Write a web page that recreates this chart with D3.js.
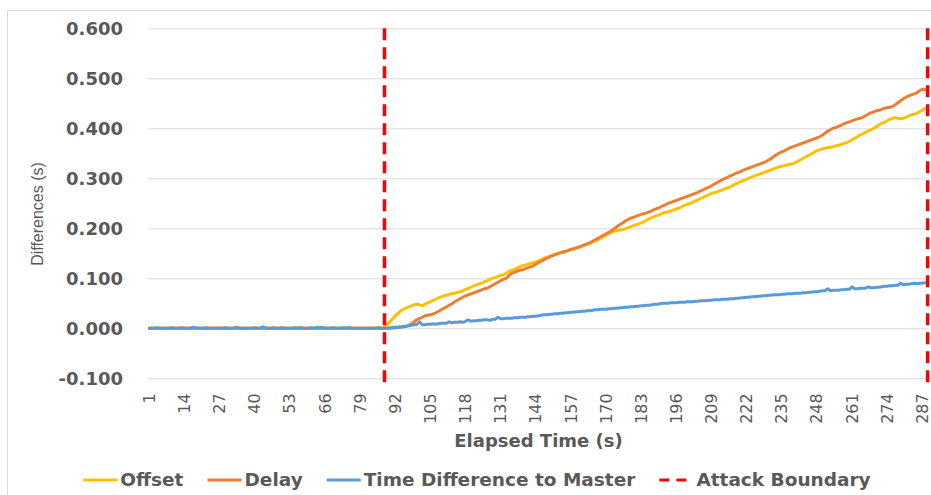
<!DOCTYPE html>
<html>
<head>
<meta charset="utf-8">
<script src="https://cdn.jsdelivr.net/npm/d3@7"></script>
<style>
    body { margin: 0; background: #fff; }
    svg { display: block; }
</style>
</head>
<body>
<div id="chart"></div>
<script>
// Values (one value per elapsed second, 1..288)
var offset = [
    0,0,0,0,0,0,0,0,0,0, 0,0,0,0,0,0,0,0,0,0, 0,0,0,0,0,0,0,0,0,0,
    0,0,0,0,0,0,0,0,0,0, 0,0,0,0,0,0,0,0,0,0, 0,0,0,0,0,0,0,0,0,0,
    0,0,0,0,0,0,0,0,0,0, 0,0,0,0,0,0,0,0,0,0, 0,0,0,0,0,0,0,
    0.002,0.008,0.013,0.019,0.025,0.030,0.035,0.038,0.041,0.043,0.045,0.047,0.048,
    0.047,0.045,0.048,0.051,0.053,0.056,0.058,0.061,0.063,0.065,
    0.066,0.068,0.069,0.070,0.072,0.073,0.075,0.078,0.080,0.082,
    0.085,0.087,0.089,0.091,0.093,0.095,0.098,0.100,0.102,0.104,
    0.106,0.107,0.110,0.113,0.116,0.118,0.120,0.123,0.125,0.126,
    0.128,0.130,0.131,0.133,0.135,0.137,0.140,0.142,0.144,0.146,
    0.148,0.149,0.151,0.153,0.154,0.156,0.157,0.159,0.161,0.162,
    0.164,0.166,0.168,0.170,0.173,0.175,0.177,0.180,0.183,0.186,
    0.189,0.192,0.194,0.195,0.196,0.197,0.199,0.201,0.203,0.205,
    0.207,0.209,0.211,0.213,0.216,0.219,0.222,0.224,0.226,0.228,
    0.230,0.232,0.233,0.235,0.237,0.239,0.240,0.243,0.246,0.248,
    0.250,0.252,0.255,0.257,0.260,0.262,0.265,0.267,0.270,0.271,
    0.273,0.275,0.277,0.279,0.281,0.283,0.286,0.289,0.291,0.294,
    0.296,0.298,0.301,0.303,0.305,0.307,0.309,0.311,0.313,0.315,
    0.317,0.319,0.321,0.323,0.324,0.325,0.327,0.328,0.329,0.331,
    0.334,0.337,0.340,0.343,0.346,0.349,0.352,0.355,0.357,0.359,
    0.360,0.361,0.362,0.363,0.365,0.366,0.368,0.370,0.371,0.374,
    0.377,0.380,0.383,0.387,0.389,0.392,0.395,0.397,0.400,0.403,
    0.407,0.410,0.412,0.415,0.418,0.420,0.421,0.420,0.419,0.420,
    0.422,0.425,0.427,0.428,0.430,0.433,0.436,0.440
];

var delay = [
    0,0,0,0,0,0,0,0,0,0, 0,0,0,0,0,0,0,0,0,0, 0,0,0,0,0,0,0,0,0,0,
    0,0,0,0,0,0,0,0,0,0, 0,0,0,0,0,0,0,0,0,0, 0,0,0,0,0,0,0,0,0,0,
    0,0,0,0,0,0,0,0,0,0, 0,0,0,0,0,0,0,0,0,0, 0,0,0,0,0,0,0,
    0.000,0.000,0.001,0.001,0.002,0.002,0.003,0.003,0.004,0.006,0.009,0.013,0.017,
    0.020,0.022,0.025,0.026,0.027,0.029,0.031,0.034,0.037,0.040,
    0.043,0.046,0.049,0.053,0.056,0.059,0.062,0.065,0.067,0.069,
    0.071,0.073,0.075,0.077,0.079,0.080,0.083,0.086,0.089,0.092,
    0.095,0.098,0.100,0.105,0.110,0.112,0.114,0.116,0.117,0.119,
    0.121,0.123,0.125,0.128,0.131,0.134,0.137,0.140,0.142,0.145,
    0.147,0.149,0.151,0.152,0.154,0.156,0.158,0.159,0.161,0.163,
    0.165,0.167,0.169,0.171,0.174,0.177,0.180,0.183,0.186,0.189,
    0.192,0.195,0.199,0.203,0.207,0.210,0.214,0.217,0.220,0.222,
    0.224,0.226,0.228,0.229,0.231,0.233,0.235,0.238,0.240,0.242,
    0.245,0.247,0.250,0.252,0.254,0.256,0.258,0.260,0.262,0.264,
    0.266,0.268,0.270,0.272,0.275,0.277,0.280,0.282,0.285,0.288,
    0.291,0.294,0.297,0.300,0.302,0.305,0.307,0.310,0.312,0.314,
    0.317,0.319,0.321,0.323,0.325,0.327,0.329,0.331,0.333,0.336,
    0.339,0.343,0.347,0.350,0.353,0.355,0.358,0.361,0.363,0.365,
    0.367,0.369,0.371,0.373,0.375,0.377,0.379,0.381,0.383,0.386,
    0.390,0.394,0.397,0.400,0.402,0.404,0.406,0.409,0.411,0.413,
    0.415,0.417,0.419,0.420,0.422,0.425,0.428,0.431,0.433,0.435,
    0.436,0.438,0.440,0.441,0.442,0.444,0.447,0.451,0.455,0.459,
    0.462,0.465,0.467,0.469,0.471,0.475,0.478,0.477
];

var masterDiff = [
    0,0,0,0.001,0,0,0,0,0.001,0, 0,0,0.001,0,0,0,0.002,0.001,0,0,
    0,0.001,0,0,0,0,0,0,0.001,0, 0,0,0.002,0.001,0,0,0,0,0,0.001,
    0,0,0.003,0.001,0,0,0.001,0,0,0.001, 0,0,0,0,0.001,0,0.002,0,0,0,
    0.001,0,0.002,0.001,0.002,0,0,0,0.001,0, 0,0,0.001,0,0.002,0,0,0,0,0,
    0,0,0,0,0,0.001,0,
    0.000,0.000,0.000,0.001,0.001,0.002,0.002,0.003,0.004,0.005,0.006,0.007,0.008,
    0.013,0.007,0.007,0.008,0.008,0.009,0.008,0.009,0.010,0.010,
    0.010,0.013,0.011,0.012,0.012,0.013,0.012,0.014,0.017,0.014,
    0.015,0.015,0.016,0.016,0.017,0.017,0.016,0.018,0.018,0.022,
    0.019,0.019,0.020,0.020,0.020,0.021,0.021,0.022,0.022,0.022,
    0.023,0.023,0.024,0.024,0.025,0.026,0.027,0.027,0.028,0.028,
    0.029,0.029,0.030,0.030,0.031,0.031,0.032,0.032,0.033,0.033,
    0.034,0.034,0.035,0.035,0.036,0.037,0.037,0.038,0.038,0.038,
    0.039,0.039,0.040,0.040,0.041,0.041,0.042,0.042,0.043,0.043,
    0.044,0.044,0.045,0.045,0.046,0.046,0.047,0.048,0.048,0.049,
    0.050,0.050,0.050,0.051,0.051,0.051,0.052,0.052,0.052,0.053,
    0.053,0.053,0.054,0.054,0.055,0.055,0.055,0.056,0.056,0.057,
    0.057,0.057,0.058,0.058,0.058,0.059,0.059,0.060,0.060,0.061,
    0.061,0.062,0.062,0.063,0.063,0.064,0.064,0.065,0.065,0.066,
    0.066,0.067,0.067,0.067,0.068,0.068,0.069,0.069,0.069,0.070,
    0.070,0.070,0.071,0.071,0.072,0.072,0.073,0.073,0.074,0.075,
    0.075,0.079,0.075,0.076,0.076,0.076,0.077,0.077,0.078,0.078,
    0.083,0.079,0.079,0.080,0.080,0.080,0.083,0.081,0.081,0.082,
    0.082,0.083,0.084,0.084,0.085,0.085,0.086,0.086,0.090,0.087,
    0.088,0.088,0.089,0.090,0.089,0.090,0.090,0.091
];

var attackBoundaries = [88, 289];
var xTickLabels = [1, 14, 27, 40, 53, 66, 79, 92, 105, 118, 131, 144, 157, 170, 183, 196, 209, 222, 235, 248, 261, 274, 287];
var yTicks = [-0.1, 0, 0.1, 0.2, 0.3, 0.4, 0.5, 0.6];
var seriesNames = ["Offset", "Delay", "Time Difference to Master", "Attack Boundary"];
var seriesColors = ["#FFC000", "#ED7D31", "#5B9BD5", "#FF0000"];

var elapsed = d3.range(1, 290);

var W = 931, H = 495,
    plot = { left: 148, right: 929, top: 28.3, bottom: 378.3 },
    textColor = "#595959",
    gridColor = "#D9D9D9";

var svg = d3.select("#chart")
    .append("svg")
    .attr("width", W)
    .attr("height", H);

// chart border
svg.append("rect")
    .attr("x", 7.5).attr("y", 10.5)
    .attr("width", 940).attr("height", 500)
    .attr("fill", "#fff")
    .attr("stroke", "#D9D9D9");

var x = d3.scaleBand()
    .domain(elapsed)
    .range([plot.left, plot.right])
    .padding(0);

var y = d3.scaleLinear()
    .domain([-0.1, 0.6])
    .range([plot.bottom, plot.top]);

function cx(d) { return x(d) + x.bandwidth() / 2; }

// y axis with horizontal grid lines
var yAxis = svg.append("g")
    .attr("transform", "translate(" + plot.left + ",0)")
    .call(d3.axisLeft(y)
        .tickValues(yTicks)
        .tickSize(-(plot.right - plot.left))
        .tickPadding(25)
        .tickFormat(function (d) { return d3.format(".3f")(d).replace("\u2212", "-"); }));

yAxis.select(".domain").remove();
yAxis.selectAll("line").attr("stroke", gridColor);
yAxis.selectAll("text")
    .attr("fill", textColor)
    .style("font-family", "'DejaVu Sans', sans-serif")
    .style("font-weight", "bold")
    .style("font-size", "18px");

// x axis, rotated category labels
var xAxis = svg.append("g")
    .attr("transform", "translate(0," + plot.bottom + ")")
    .call(d3.axisBottom(x)
        .tickValues(xTickLabels)
        .tickSize(0)
        .tickFormat(function (d) { return d; }));

xAxis.select(".domain").remove();
xAxis.selectAll("text")
    .attr("transform", "rotate(-90)")
    .attr("x", -15)
    .attr("y", 0)
    .attr("dy", "0.35em")
    .attr("text-anchor", "end")
    .attr("fill", textColor)
    .style("font-family", "'DejaVu Sans', sans-serif")
    .style("font-size", "16px");

// axis titles
svg.append("text")
    .attr("x", (plot.left + plot.right) / 2)
    .attr("y", 447)
    .attr("text-anchor", "middle")
    .attr("fill", textColor)
    .style("font-family", "'DejaVu Sans', sans-serif")
    .style("font-weight", "bold")
    .style("font-size", "18px")
    .text("Elapsed Time (s)");

svg.append("text")
    .attr("transform", "translate(43,214) rotate(-90)")
    .attr("text-anchor", "middle")
    .attr("fill", textColor)
    .style("font-family", "'Liberation Sans', sans-serif")
    .style("font-size", "16px")
    .text("Differences (s)");

// series lines
var line = d3.line()
    .x(function (d) { return cx(d.t); })
    .y(function (d) { return y(d.v); });

[offset, delay, masterDiff].forEach(function (values, i) {
    var data = values.map(function (v, k) { return { t: elapsed[k], v: v }; });
    svg.append("path")
        .datum(data)
        .attr("d", line)
        .attr("fill", "none")
        .attr("stroke", seriesColors[i])
        .attr("stroke-width", 3)
        .attr("stroke-linejoin", "round")
        .attr("stroke-linecap", "round");
});

// attack boundaries
svg.append("g")
    .selectAll("line")
    .data(attackBoundaries)
    .enter()
    .append("line")
    .attr("x1", cx).attr("x2", cx)
    .attr("y1", y(0.6))
    .attr("y2", y(-0.1) + 6)
    .attr("stroke", seriesColors[3])
    .attr("stroke-width", 3.5)
    .attr("stroke-dasharray", "12,7");

// legend
var legend = svg.append("g").attr("transform", "translate(0,480)");
var lx = 0;
seriesNames.forEach(function (name, i) {
    var item = legend.append("g").attr("transform", "translate(" + lx + ",0)");
    item.append("line")
        .attr("x1", 0).attr("x2", 34)
        .attr("y1", 0).attr("y2", 0)
        .attr("stroke", seriesColors[i])
        .attr("stroke-width", 3)
        .attr("stroke-dasharray", i === 3 ? "10,7" : null);
    var t = item.append("text")
        .attr("x", 37)
        .attr("dy", "0.35em")
        .attr("fill", textColor)
        .style("font-family", "'DejaVu Sans', sans-serif")
        .style("font-weight", "bold")
        .style("font-size", "18.5px")
        .text(name);
    lx += 37 + t.node().getComputedTextLength() + 24;
});
var legendWidth = lx - 24;
legend.attr("transform", "translate(" + (477 - legendWidth / 2) + ",480)");
</script>
</body>
</html>
